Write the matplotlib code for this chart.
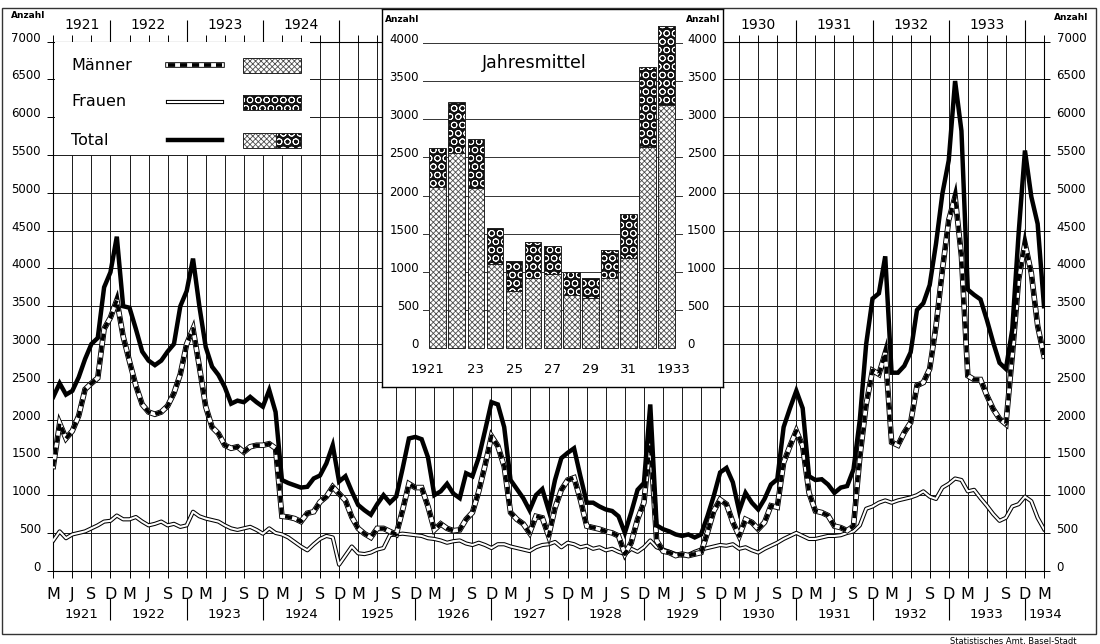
import numpy as np
import matplotlib.pyplot as plt
from matplotlib import transforms
from matplotlib.patches import Rectangle

plt.rcParams['font.family'] = ['DejaVu Sans']
plt.rcParams['hatch.linewidth'] = 0.6

# monthly counts, March 1921 .. March 1934
total = [
    2300, 2480, 2330, 2380, 2560, 2800, 3000, 3080, 3750, 3950,
    4420, 3500, 3480, 3200, 2900, 2780, 2720, 2780, 2900, 3000, 3500, 3700,
    4130, 3500, 2960, 2700, 2590, 2430, 2210, 2250, 2230, 2300, 2230, 2170,
    2390, 2100, 1200, 1160, 1130, 1100, 1110, 1220, 1260, 1420, 1660, 1180,
    1250, 1050, 870, 800, 740, 880, 1000, 900, 980, 1350, 1750, 1770,
    1740, 1500, 1000, 1050, 1150, 1020, 960, 1290, 1250, 1500, 1860, 2230,
    2200, 1900, 1200, 1080, 960, 800, 1000, 1080, 800, 1200, 1490, 1560,
    1620, 1250, 900, 900, 850, 810, 790, 720, 500, 770, 1070, 1160,
    2200, 600, 550, 520, 480, 460, 480, 440, 480, 720, 990, 1300,
    1360, 1170, 790, 1030, 900, 810, 950, 1140, 1210, 1900, 2150, 2380,
    2150, 1250, 1200, 1210, 1140, 1030, 1100, 1120, 1340, 2000, 3000, 3600,
    3670, 4160, 2620, 2620, 2710, 2890, 3450, 3540, 3780, 4330, 4990, 5430,
    6480, 5820, 3720, 3650, 3590, 3320, 3020, 2750, 2670, 3190, 4460, 5560,
    4950, 4590, 3500,
]
maenner = [
    1380, 1950, 1750, 1850, 2050, 2400, 2480, 2550, 3200, 3350,
    3580, 3100, 2770, 2450, 2200, 2100, 2070, 2100, 2180, 2350, 2600, 3000,
    3200, 2700, 2170, 1900, 1815, 1660, 1620, 1640, 1570, 1640, 1660, 1660,
    1680, 1620, 720, 710, 690, 650, 760, 780, 910, 980, 1110, 1020,
    930, 710, 560, 490, 440, 560, 560, 520, 480, 800, 1150, 1100,
    1100, 850, 540, 620, 560, 530, 540, 680, 770, 1050, 1400, 1780,
    1650, 1380, 770, 680, 620, 500, 720, 700, 460, 830, 1070, 1200,
    1230, 940, 590, 570, 550, 520, 500, 460, 220, 370, 680, 900,
    1750, 400, 260, 240, 200, 220, 200, 220, 240, 500, 790, 940,
    880, 640, 460, 680, 640, 550, 640, 860, 840, 1430, 1650, 1850,
    1650, 1030, 790, 770, 730, 590, 570, 530, 590, 1500, 2200, 2650,
    2600, 2880, 1700, 1660, 1830, 1960, 2450, 2490, 2670, 3240, 3980, 4640,
    4950, 4160, 2580, 2530, 2530, 2320, 2140, 2010, 1940, 2840, 3850, 4330,
    3940, 3240, 2840,
]
frauen = [
    400, 520, 430, 480, 500, 520, 560, 600, 650, 660,
    730, 680, 680, 710, 650, 600, 620, 650, 600, 620, 580, 600,
    780, 720, 690, 670, 650, 600, 560, 540, 560, 580, 540, 490,
    560, 500, 480, 440, 380, 320, 270, 350, 420, 460, 440, 80,
    200, 320, 230, 220, 240, 280, 300, 470, 480, 490, 480, 470,
    460, 430, 420, 400, 370, 390, 400, 360, 340, 370, 340, 300,
    350, 350, 320, 300, 280, 260, 310, 340, 350, 380, 310, 370,
    350, 310, 330, 290, 310, 270, 290, 250, 220, 290, 250, 310,
    400, 310, 280, 250, 220, 200, 210, 250, 280, 300, 320, 340,
    330, 350, 290, 310, 270, 240, 290, 330, 370, 420, 460, 500,
    460, 420, 420, 440, 460, 460, 470, 500, 520, 600, 820, 850,
    900, 930, 900, 930, 950, 970, 1000, 1050, 980, 950, 1100, 1150,
    1220, 1200, 1050, 1070, 960, 860, 750, 660, 700, 850, 880, 980,
    920, 700, 550,
]

# yearly means (inset)
years = list(range(1921, 1934))
jahr_maenner = [2110, 2560, 2105, 1100, 745, 920, 965, 695, 655, 910, 1185, 2635, 3190]
jahr_frauen = [510, 675, 635, 470, 400, 475, 375, 305, 255, 375, 570, 1060, 1035]

label_years = list(range(1921, 1935))
top_years = [1921, 1922, 1923, 1924, 1930, 1931, 1932, 1933]

W, H = 1100, 644
LEFT, RIGHT, TOP, BOTTOM = 53.3, 1044, 41.7, 570.7


def box(x0, y0, x1, y1):
    # pixel corners (origin top left) -> figure rect
    return [x0 / W, 1 - y1 / H, (x1 - x0) / W, (y1 - y0) / H]


def ya(py):
    # pixel row -> main axes fraction
    return (BOTTOM - py) / (BOTTOM - TOP)


def draw_frauen(a, x, y):
    a.plot(x, y, color='black', lw=3.0, zorder=3)
    a.plot(x, y, color='white', lw=1.5, zorder=3.1)


def draw_maenner(a, x, y):
    a.plot(x, y, color='black', lw=4.0, solid_joinstyle='miter', zorder=4)
    a.plot(x, y, color='white', lw=2.7, solid_joinstyle='miter', zorder=4.1)
    a.plot(x, y, color='black', lw=2.7, dashes=(1.9, 1.3), zorder=4.2)


def draw_total(a, x, y):
    a.plot(x, y, color='black', lw=3.2, solid_joinstyle='miter', zorder=5)


M_STYLE = dict(facecolor='white', edgecolor='#4d4d4d', hatch='xxxxxx', lw=0)
F_STYLE = dict(facecolor='#111111', edgecolor='white', hatch='OO', lw=0)

fig = plt.figure(figsize=(11, 6.44), dpi=100)

# main chart
ax = fig.add_axes(box(LEFT, TOP, RIGHT, BOTTOM))
months = np.arange(len(total))
draw_frauen(ax, months, frauen)
draw_maenner(ax, months, maenner)
draw_total(ax, months, total)

ax.set_xlim(0, months[-1])
ax.set_ylim(0, 7000)
quarters = months[::3]
ax.set_xticks(quarters, ['MJSD'[i % 4] for i in range(len(quarters))])
ax.set_yticks(np.arange(0, 7001, 500))
ax.grid(True, color='#1a1a1a', lw=0.7)
ax.set_axisbelow(True)
ax.tick_params(axis='x', length=5, width=0.7, top=True, labelsize=11.5, pad=7)
ax.tick_params(axis='y', length=4, width=0.7, right=True, labelright=True,
               labelsize=8.5, pad=5)
for t in ax.yaxis.get_major_ticks():
    t.label1.set_va('baseline')
    t.label2.set_va('baseline')
for s in ax.spines.values():
    s.set_linewidth(0.8)

trans = transforms.blended_transform_factory(ax.transData, ax.transAxes)
d_months = quarters[3::4]
bounds = [0] + list(d_months) + [months[-1]]

ax.vlines(d_months, ya(598), ya(620), transform=trans, color='black', lw=0.8, clip_on=False)
for yr, a, b in zip(label_years, bounds[:-1], bounds[1:]):
    if yr == label_years[-1]:
        ax.text(a + 0.5, ya(615), str(yr), transform=trans, ha='left', va='center',
                fontsize=9.5)
    else:
        ax.text((a + b) / 2, ya(615), str(yr), transform=trans, ha='center',
                va='center', fontsize=9.5)

ax.vlines(d_months, 1, ya(20), transform=trans, color='black', lw=0.8, clip_on=False)
for yr, a, b in zip(label_years, bounds[:-1], bounds[1:]):
    if yr in top_years:
        ax.text((a + b) / 2, ya(25), str(yr), transform=trans, ha='center',
                va='center', fontsize=10)

fig.text(28 / W, 1 - 15 / H, 'Anzahl', ha='center', va='center', fontsize=6.5,
         weight='bold')
fig.text(1071 / W, 1 - 18 / H, 'Anzahl', ha='center', va='center', fontsize=6.5,
         weight='bold')

# legend box
axl = fig.add_axes(box(54.5, 42.3, 310, 155), zorder=1)
axl.set_xlim(54.5, 310)
axl.set_ylim(155, 42.3)
axl.set_xticks([])
axl.set_yticks([])
for s in axl.spines.values():
    s.set_visible(False)

rows = [('Männer', 65, draw_maenner), ('Frauen', 102, draw_frauen), ('Total', 140, draw_total)]
for label, yy, fn in rows:
    axl.text(71, yy, label, fontsize=11.5, ha='left', va='center')
    fn(axl, [168, 222], [yy, yy])
    if label == 'Männer':
        parts = [(243, 58, M_STYLE)]
    elif label == 'Frauen':
        parts = [(243, 58, F_STYLE)]
    else:
        parts = [(243, 33, M_STYLE), (276, 25, F_STYLE)]
    for x0, w, st in parts:
        axl.add_patch(Rectangle((x0, yy - 7.5), w, 15, **st))
        axl.add_patch(Rectangle((x0, yy - 7.5), w, 15, fill=False, edgecolor='#222', lw=0.7))

# inset frame
axb = fig.add_axes(box(382, 9, 723, 387), zorder=2)
axb.set_xlim(382, 723)
axb.set_ylim(387, 9)
axb.set_xticks([])
axb.set_yticks([])
for s in axb.spines.values():
    s.set_linewidth(1.0)
axb.text(534, 63, 'Jahresmittel', ha='center', va='center', fontsize=12.5)
axb.text(402, 19, 'Anzahl', ha='center', va='center', fontsize=6.5, weight='bold')
axb.text(703, 19, 'Anzahl', ha='center', va='center', fontsize=6.5, weight='bold')

# inset bars
axj = fig.add_axes(box(423, 43.3, 683, 347.7), zorder=3)
axj.patch.set_alpha(0)
axj.set_xlim(1920.23, 1933.85)
axj.set_ylim(0, 4000)
axj.bar(years, jahr_maenner, width=0.87, zorder=2, clip_on=False, **M_STYLE)
axj.bar(years, jahr_frauen, bottom=jahr_maenner, width=0.87, zorder=2, clip_on=False,
        **F_STYLE)
axj.bar(years, jahr_maenner, width=0.87, fill=False, edgecolor='#222', lw=0.7,
        zorder=2.5, clip_on=False)
axj.bar(years, jahr_frauen, bottom=jahr_maenner, width=0.87, fill=False,
        edgecolor='#222', lw=0.7, zorder=2.5, clip_on=False)
axj.set_yticks(range(0, 4001, 500))
axj.grid(axis='y', color='#333333', lw=0.7)
axj.set_axisbelow(True)
xt = years[::2]
axj.set_xticks(xt, [str(y) if y in (years[0], years[-1]) else str(y)[2:] for y in xt])
axj.tick_params(length=0, labelsize=8.5, labelright=True, pad=3)
axj.tick_params(axis='x', labelsize=9.5, pad=11)
for t in axj.yaxis.get_major_ticks():
    t.label1.set_va('baseline')
    t.label2.set_va('baseline')
for s in axj.spines.values():
    s.set_visible(False)
# full-year labels at the ends sit slightly outward
xticks = axj.xaxis.get_major_ticks()
for tk, dx in ((xticks[0], -0.1), (xticks[-1], 0.07)):
    tk.label1.set_transform(tk.label1.get_transform()
                            + transforms.ScaledTranslation(dx, 0, fig.dpi_scale_trans))

# outer frame and source
fig.add_artist(Rectangle((2 / W, 1 - 634 / H), 1094 / W, 626 / H, transform=fig.transFigure,
                         fill=False, edgecolor='#333333', lw=1.0, zorder=10))
fig.text(1077 / W, 1 - 637 / H, 'Statistisches Amt, Basel-Stadt', ha='right', va='top',
         fontsize=6)

fig.savefig('out.png', dpi=100)
